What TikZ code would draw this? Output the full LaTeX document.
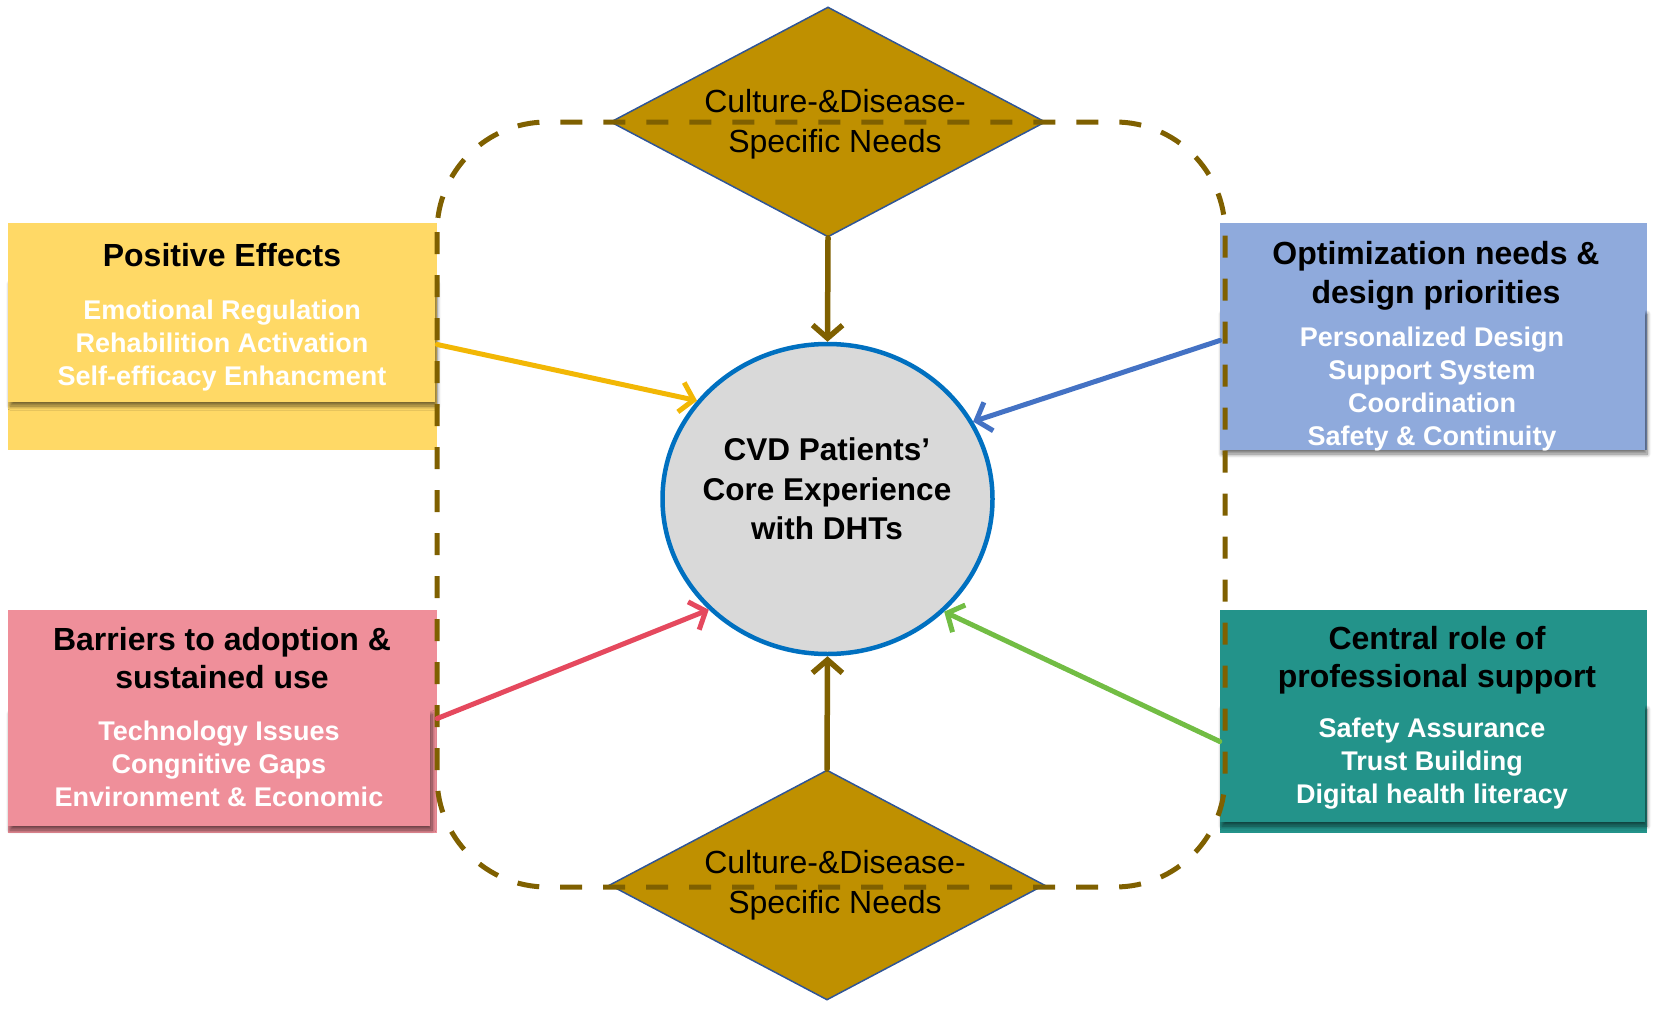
\documentclass[tikz,border=0pt]{standalone}
\usepackage{fontspec}
\setmainfont{Liberation Sans}
\usetikzlibrary{shapes.geometric,arrows.meta,shadows.blur}
\definecolor{cgold}{HTML}{BF9000}
\definecolor{cbrown}{HTML}{7F6000}
\definecolor{cyel}{HTML}{FFD966}
\definecolor{cblu}{HTML}{8FAADC}
\definecolor{cpink}{HTML}{EF8F9A}
\definecolor{cteal}{HTML}{23938A}
\definecolor{ayel}{HTML}{F2B705}
\definecolor{ablu}{HTML}{4472C4}
\definecolor{ared}{HTML}{E5495E}
\definecolor{agrn}{HTML}{72BD44}
\definecolor{cgray}{HTML}{D9D9D9}
\definecolor{cring}{HTML}{0070C0}
\definecolor{dline}{HTML}{2F5597}
\begin{document}
\begin{tikzpicture}[x=1pt,y=-1pt,
  panel/.style={rectangle, inner sep=0pt, draw=none},
  sbox/.style={rectangle, inner sep=0pt, draw=none, blur shadow={shadow xshift=2pt, shadow yshift=-4pt, shadow blur radius=4pt, shadow blur steps=8, shadow opacity=55}},
  ttl/.style={font=\fontsize{32}{38.5}\selectfont\bfseries, align=center, text=black, inner sep=0pt},
  itm/.style={font=\fontsize{27}{33}\selectfont\bfseries, align=center, text=white, inner sep=0pt},
  dia/.style={diamond, draw=dline, line width=1.5pt, fill=cgold, minimum width=435pt, minimum height=230pt, inner sep=0pt},
  dtxt/.style={font=\fontsize{32}{40}\selectfont, align=center, inner sep=0pt},
  conn/.style={line width=5pt, line cap=round, -{Straight Barb[length=13pt,width=30pt]}},
]
\useasboundingbox (0,0) rectangle (1665,1009);
% panels
\node[panel, fill=cyel, minimum width=429pt, minimum height=227pt] (pe) at (222.5,336.5) {};
\node[sbox, fill=cyel, minimum width=427pt, minimum height=122pt] (pei) at (221.5,341) {};
\node[panel, fill=cblu, minimum width=427pt, minimum height=227pt] (op) at (1433.5,336.5) {};
\node[sbox, fill=cblu, minimum width=425pt, minimum height=140pt] (opi) at (1432.5,380) {};
\node[panel, fill=cpink, minimum width=429pt, minimum height=223pt] (ba) at (222.5,721.5) {};
\node[sbox, fill=cpink, minimum width=422pt, minimum height=116pt] (bai) at (219,768) {};
\node[panel, fill=cteal, minimum width=427pt, minimum height=223pt] (cr) at (1433.5,721.5) {};
\node[sbox, fill=cteal, minimum width=425pt, minimum height=117pt] (cri) at (1432.5,763.5) {};
% diamonds
\node[dia] (dtop) at (828,122) {};
\node[dia] (dbot) at (827,885) {};
% core
\node[ellipse, draw=cring, line width=4.5pt, fill=cgray, minimum width=330pt, minimum height=310pt] (core) at (827.5,499) {};
% dashed frame
\draw[cbrown, line width=5pt, dash pattern=on 22pt off 21pt, rounded corners=110pt] (437,122) rectangle (1225,887);
% connectors
\draw[conn, cbrown, line width=5.5pt] (dtop.south) -- (core.north);
\draw[conn, cbrown, line width=5.5pt] (dbot.north) -- (core.south);
\draw[conn, ayel] ([yshift=-8pt]pe.east) -- (core.143);
\draw[conn, ablu] ([yshift=-4pt]op.west) -- (core.28);
\draw[conn, ared] ([yshift=3pt]ba.east) -- (core.223);
\draw[conn, agrn] ([yshift=-20pt]cr.west) -- (core.316);
% texts
\node[dtxt] (dtopt) at (835,124) {Culture-\&Disease-\\Specific Needs};
\node[dtxt] (dbott) at (835,885) {Culture-\&Disease-\\Specific Needs};
\node[font=\fontsize{31.5}{39.5}\selectfont\bfseries, align=center, inner sep=0pt] (coret) at (827,489) {CVD Patients’\\Core Experience\\with DHTs};
\node[ttl] (pet) at (222,255) {Positive Effects};
\node[itm] (pes) at (222,346) {Emotional Regulation\\Rehabilition Activation\\Self-efficacy Enhancment};
\node[ttl] (opt) at (1436,276) {Optimization needs \&\\design priorities};
\node[itm] (ops) at (1432,389) {Personalized Design\\Support System\\Coordination\\Safety \& Continuity};
\node[ttl] (bat) at (222,658) {Barriers to adoption \&\\sustained use};
\node[itm] (bas) at (219,764) {Technology Issues\\Congnitive Gaps\\Environment \& Economic};
\node[ttl] (crt) at (1437,660) {Central role of\\professional support};
\node[itm] (crs) at (1432,764) {Safety Assurance\\Trust Building\\Digital health literacy};
\end{tikzpicture}
\end{document}
